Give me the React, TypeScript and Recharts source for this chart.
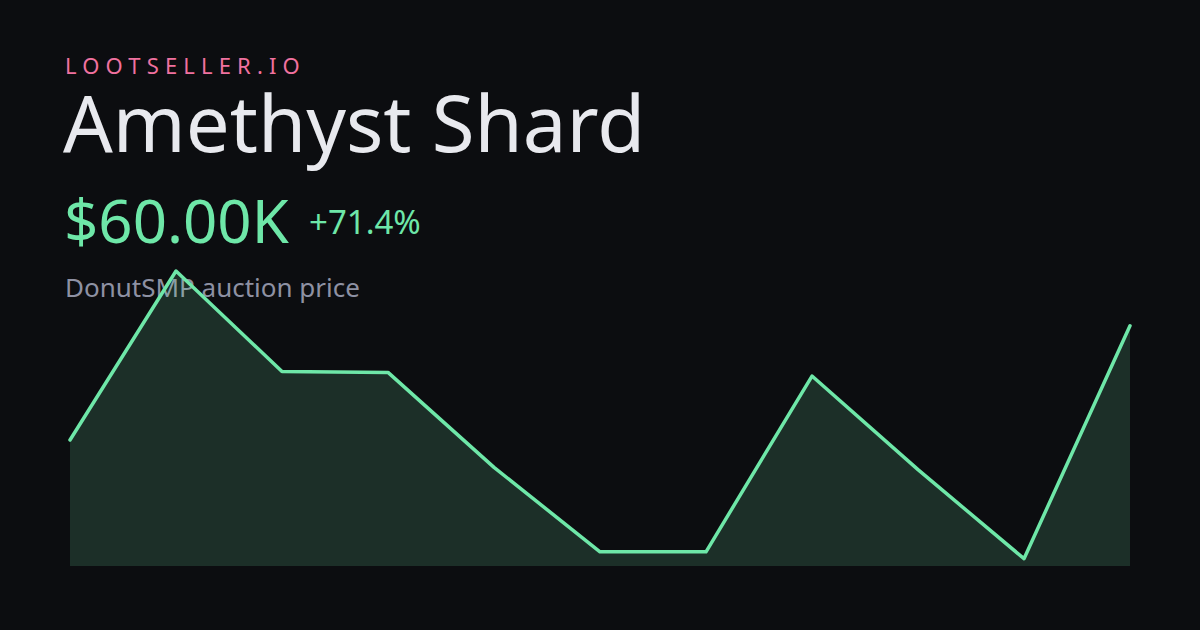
import React from "react";
import { AreaChart, Area, XAxis, YAxis } from "recharts";

const days = ["d1", "d2", "d3", "d4", "d5", "d6", "d7", "d8", "d9", "d10", "d11"];
const prices = [35000, 72000, 50000, 49800, 29000, 10500, 10500, 49000, 28500, 9000, 60000];

const data = days.map((day, i) => ({ day, price: prices[i] }));

const font = "'Noto Sans', 'Open Sans', sans-serif";

const text = (left: number, top: number, size: number, color: string, extra: React.CSSProperties = {}) => ({
  position: "absolute" as const,
  left,
  top,
  fontSize: size,
  lineHeight: 1,
  color,
  whiteSpace: "nowrap" as const,
  ...extra,
});

export default function App() {
  return (
    <div
      style={{
        position: "absolute",
        top: 0,
        left: 0,
        width: 1200,
        height: 630,
        background: "#0c0d10",
        fontFamily: font,
        overflow: "hidden",
      }}
    >
      <div style={text(65, 53.5, 22, "#f0719f", { letterSpacing: "0.28em" })}>LOOTSELLER.IO</div>
      <div style={text(63, 82.7, 78, "#e8e9ee")}>Amethyst Shard</div>
      <div style={text(64, 190, 60, "#6ee7a8")}>$60.00K</div>
      <div style={text(309, 204.5, 33, "#6ee7a8")}>+71.4%</div>
      <div style={text(65, 274, 26, "#8e91a3")}>DonutSMP auction price</div>
      <div style={{ position: "absolute", left: 0, top: 0 }}>
        <AreaChart width={1200} height={630} data={data} margin={{ top: 271, right: 70, bottom: 64, left: 70 }}>
          <XAxis dataKey="day" hide />
          <YAxis hide domain={[7400, 72000]} />
          <Area
            type="linear"
            dataKey="price"
            stroke="#6ee7a8"
            strokeWidth={3.5}
            strokeLinecap="round"
            strokeLinejoin="round"
            fill="#6ee7a8"
            fillOpacity={0.16}
            dot={false}
            activeDot={false}
            isAnimationActive={false}
          />
        </AreaChart>
      </div>
    </div>
  );
}
